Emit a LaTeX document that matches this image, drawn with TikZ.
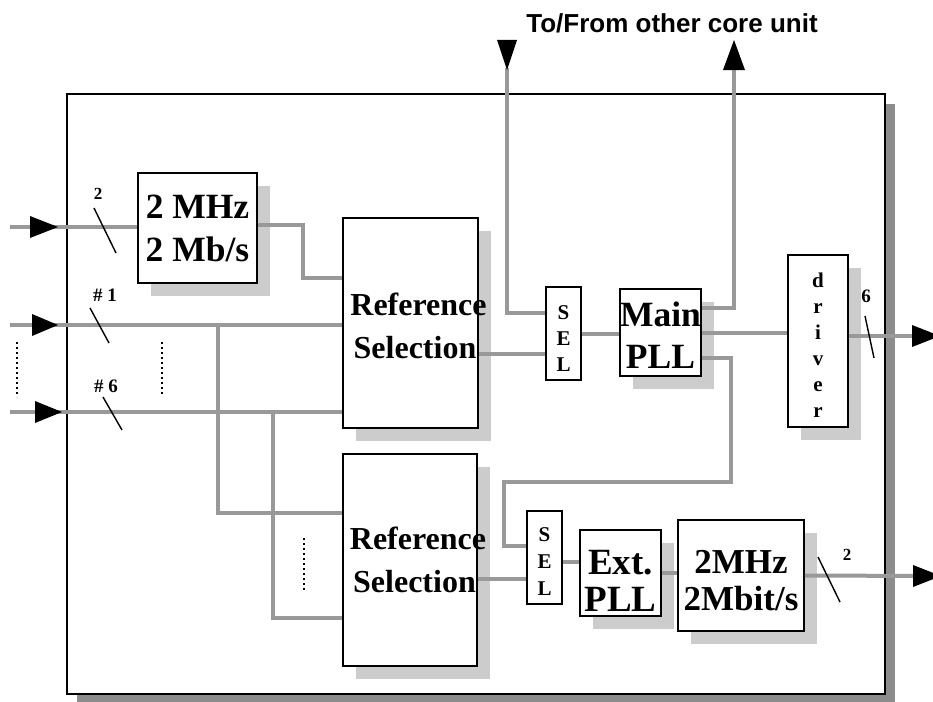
\documentclass[tikz,border=0pt]{standalone}
\usepackage{fontspec}
\setmainfont{Liberation Serif}
\newfontfamily\sansbold{Liberation Sans}
\usetikzlibrary{shadows}
\definecolor{lin}{HTML}{999999}
\definecolor{shd}{HTML}{CCCCCC}
\definecolor{oshd}{HTML}{8C8C8C}
\newcommand{\lowr}[2]{\raisebox{-#1}[\height][\depth]{#2}}
\newcommand{\shiftr}[2]{\makebox[0pt]{\hspace*{#1}#2}}
\begin{document}
\begin{tikzpicture}[x=1pt,y=-1pt,
 blk/.style={draw=black, line width=1.8pt, fill=white, inner sep=0pt, align=center, font=\bfseries},
 shad/.style={general shadow={fill=shd, shadow xshift=13pt, shadow yshift=-13pt}},
 gl/.style={draw=lin, line width=4pt},
 tick/.style={draw=black, line width=1.4pt},
 lbl/.style={font=\bfseries\fontsize{19}{22}\selectfont, inner sep=0pt},
 slbl/.style={font=\bfseries\fontsize{17}{20}\selectfont, inner sep=0pt},
 tri/.style={fill=black},
 dots/.style={draw=black, line width=1.3pt, dash pattern=on 1.6pt off 3.4pt}]
\useasboundingbox (0,0) rectangle (933,701);
\clip (0,0) rectangle (933,701);

% outer frame
\fill[oshd] (77,104) rectangle (895,704);
\node[draw=black, line width=1.8pt, fill=white, minimum width=818pt, minimum height=600pt, inner sep=0pt] (outer) at (476,394) {};

% title
\node[font=\sansbold\bfseries\fontsize{26}{30}\selectfont, inner sep=0pt] (title) at (672,23) {To/From other core unit};

% blocks
\node[blk,shad,minimum width=119pt,minimum height=110pt,font=\bfseries\fontsize{35.5}{43}\selectfont] (mhz) at (197.5,228) {2 MHz\\2 Mb/s};
\node[blk,shad,minimum width=135pt,minimum height=210pt,font=\bfseries\fontsize{32}{43}\selectfont] (rs1) at (410.5,323) {\lowr{3pt}{\shiftr{16pt}{Reference}}\\\lowr{3pt}{\shiftr{9pt}{Selection}}};
\node[blk,minimum width=35pt,minimum height=93pt,font=\bfseries\fontsize{21}{26}\selectfont] (sel1) at (563.5,333.5) {\lowr{5pt}{S}\\\lowr{5pt}{E}\\\lowr{5pt}{L}};
\node[blk,shad,minimum width=81pt,minimum height=87pt,font=\bfseries\fontsize{35.5}{42}\selectfont] (pll) at (660.5,332.5) {\lowr{3pt}{Main}\\\lowr{3pt}{PLL}};
\node[blk,shad,minimum width=60pt,minimum height=172pt,font=\bfseries\fontsize{21}{26}\selectfont] (drv) at (818,341) {\lowr{4pt}{d}\\\lowr{4pt}{r}\\\lowr{4pt}{i}\\\lowr{4pt}{v}\\\lowr{4pt}{e}\\\lowr{4pt}{r}};
\node[blk,shad,minimum width=134pt,minimum height=212pt,font=\bfseries\fontsize{32}{43}\selectfont] (rs2) at (410,560) {\shiftr{16pt}{Reference}\\\shiftr{9pt}{Selection}};
\node[blk,minimum width=35pt,minimum height=93pt,font=\bfseries\fontsize{21}{27}\selectfont] (sel2) at (544.5,557.5) {\lowr{4pt}{S}\\\lowr{4pt}{E}\\\lowr{4pt}{L}};
\node[blk,shad,minimum width=81pt,minimum height=86pt,font=\bfseries\fontsize{37}{37}\selectfont] (ext) at (620.5,573) {\lowr{8pt}{Ext.}\\\lowr{8pt}{PLL}};
\node[blk,shad,minimum width=126pt,minimum height=111pt,font=\bfseries\fontsize{35}{37}\selectfont] (mhz2) at (741,575.5) {\lowr{5pt}{2MHz}\\\lowr{5pt}{2Mbit/s}};

% coordinates
\coordinate (i0) at (10,227);
\coordinate (i1) at (10,325);
\coordinate (i6) at (10,412);
\coordinate (b1) at (218,325);
\coordinate (c1) at (218,513);
\coordinate (b6) at (273,412);
\coordinate (c6) at (273,618);
\coordinate (m1) at (303,225);
\coordinate (m2) at (303,278);
\coordinate (r1o) at (0,354);
\coordinate (tin) at (507,68);
\coordinate (tin2) at (507,313);
\coordinate (tout) at (734,68);
\coordinate (to2) at (734,308);
\coordinate (p1) at (731,358);
\coordinate (q1) at (731,482);
\coordinate (q2) at (504,482);
\coordinate (q3) at (504,546);
\coordinate (r2o) at (0,579);
\coordinate (s2) at (0,562);
\coordinate (o1) at (933,336);
\coordinate (o2) at (933,576);

% grey connectors
\draw[gl] (i0) -- (i0 -| mhz.west);
\draw[gl] (i1) -- (i1 -| rs1.west);
\draw[gl] (i6) -- (i6 -| rs1.west);
\draw[gl] (b1) -- (c1) -- (c1 -| rs2.west);
\draw[gl] (b6) -- (c6) -- (c6 -| rs2.west);
\draw[gl] (m1 -| mhz.east) -- (m1) -- (m2) -- (m2 -| rs1.west);
\draw[gl] (r1o -| rs1.east) -- (r1o -| sel1.west);
\draw[gl] (tin) -- (tin2) -- (tin2 -| sel1.west);
\draw[gl] (sel1.east) -- (sel1.east -| pll.west);
\draw[gl] (to2 -| pll.east) -- (to2) -- (tout);
\draw[gl] (pll.east) -- (pll.east -| drv.west);
\draw[gl] (p1 -| pll.east) -- (p1) -- (q1) -- (q2) -- (q3) -- (q3 -| sel2.west);
\draw[gl] (r2o -| rs2.east) -- (r2o -| sel2.west);
\draw[gl] (s2 -| sel2.east) -- (s2 -| ext.west);
\draw[gl] (ext.east) -- (ext.east -| mhz2.west);
\draw[gl] (mhz2.east) -- (o2);
\draw[gl] (o1 -| drv.east) -- (o1);

% arrowheads
\fill[tri] (30,216) -- (58,227) -- (30,238) -- cycle;
\fill[tri] (32,314) -- (58,325) -- (32,336) -- cycle;
\fill[tri] (35,401) -- (62,412) -- (35,423) -- cycle;
\fill[tri] (497,40) -- (517,40) -- (507,70) -- cycle;
\fill[tri] (734,40) -- (745,70) -- (723,70) -- cycle;
\fill[tri] (912,325) -- (940,336) -- (912,347) -- cycle;
\fill[tri] (913,565) -- (941,576) -- (913,587) -- cycle;

% bus ticks and labels
\draw[tick] (94,208) -- (116,253);
\node[slbl] (n2a) at (98,194) {2};
\draw[tick] (90,308) -- (109,343);
\node[lbl] (n1) at (105,295) {\# 1};
\draw[tick] (103,397) -- (122,430);
\node[lbl] (n6) at (106,386) {\# 6};
\draw[tick] (865,316) -- (874,358);
\node[lbl] (n6b) at (866,296) {6};
\draw[tick] (818,557) -- (840,602);
\node[slbl] (n2b) at (847,555) {2};

% dotted continuation marks
\draw[dots] (17,342) -- (17,397);
\draw[dots] (162,342) -- (162,395);
\draw[dots] (304,538) -- (304,592);
\end{tikzpicture}
\end{document}
